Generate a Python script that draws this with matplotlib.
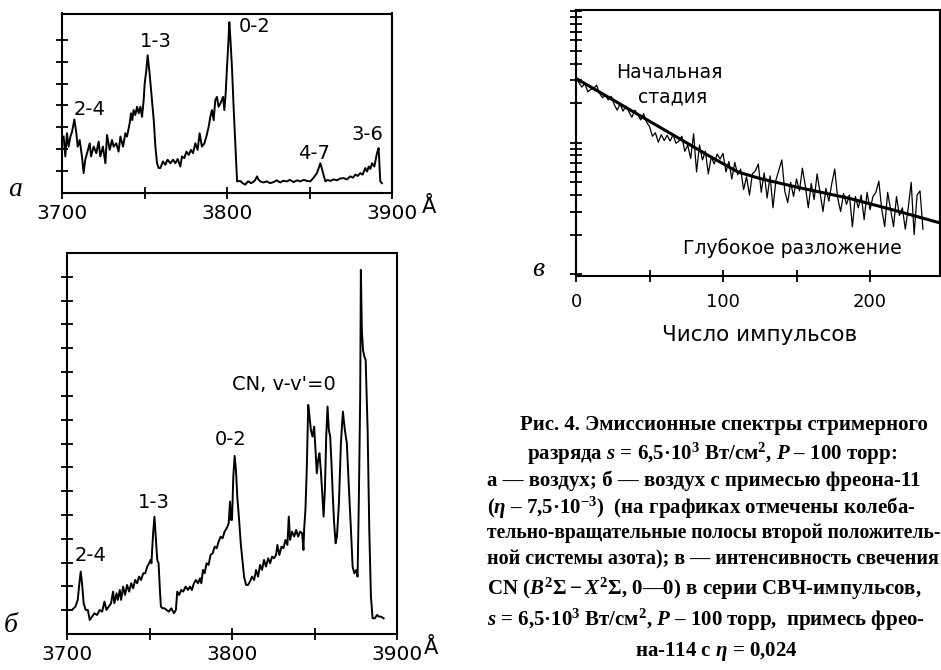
import matplotlib
matplotlib.use('Agg')
import matplotlib.pyplot as plt
import numpy as np
from matplotlib.ticker import LogLocator, NullFormatter

plt.rcParams['font.family'] = ['DejaVu Sans']
plt.rcParams['mathtext.fontset'] = 'custom'
plt.rcParams['mathtext.rm'] = 'Liberation Serif:bold'
plt.rcParams['mathtext.it'] = 'Liberation Serif:italic:bold'
plt.rcParams['mathtext.bf'] = 'Liberation Serif:bold'

# ---------------- data: panel a (air) ----------------
lam_a = [3701.0, 3702.0, 3703.0, 3704.0, 3705.1, 3706.1, 3707.5, 3708.7, 3709.5, 3710.7,
         3712.1, 3713.1, 3714.1, 3715.2, 3716.8, 3717.6, 3719.2, 3720.8, 3722.2, 3723.2,
         3724.8, 3726.3, 3727.3, 3728.9, 3730.3, 3731.3, 3732.9, 3734.3, 3735.4, 3737.0,
         3738.4, 3739.4, 3741.0, 3741.8, 3742.6, 3743.4, 3744.4, 3745.5, 3746.5, 3747.5,
         3748.5, 3749.5, 3750.1, 3751.1, 3751.9, 3753.1, 3754.5, 3755.6, 3756.6, 3757.6,
         3758.6, 3759.6, 3761.2, 3762.6, 3764.0, 3765.7, 3767.3, 3768.7, 3770.1, 3771.7,
         3772.7, 3774.1, 3775.4, 3776.8, 3778.2, 3779.4, 3780.8, 3782.2, 3783.4, 3784.8,
         3786.3, 3787.5, 3788.9, 3789.9, 3790.9, 3791.9, 3792.9, 3793.9, 3794.9, 3796.0,
         3797.6, 3798.4, 3799.2, 3800.0, 3800.8, 3801.4, 3802.0, 3803.0, 3804.0, 3805.1,
         3806.1, 3808.1, 3809.5, 3811.1, 3812.5, 3813.1, 3814.5, 3815.8, 3817.0, 3818.2,
         3819.2, 3820.2, 3822.0, 3824.2, 3826.0, 3828.3, 3830.0, 3832.3, 3834.0, 3836.4,
         3838.0, 3840.4, 3842.5, 3844.4, 3846.5, 3848.5, 3850.5, 3852.5, 3854.5, 3856.6,
         3858.2, 3859.6, 3861.0, 3862.6, 3864.6, 3866.7, 3868.5, 3870.7, 3872.7, 3874.7,
         3876.3, 3877.8, 3879.3, 3880.8, 3882.2, 3883.8, 3884.9, 3885.9, 3886.9, 3887.9,
         3889.3, 3890.9, 3891.9, 3892.9, 3893.9]
int_a = [2.58, 1.67, 2.73, 2.12, 2.58, 2.80, 3.36, 2.73, 2.12, 2.42,
         1.67, 0.91, 1.52, 1.82, 2.27, 1.67, 2.12, 1.82, 2.35, 1.67,
         2.12, 1.36, 2.65, 1.97, 2.42, 2.12, 2.27, 1.89, 2.58, 2.12,
         2.73, 2.58, 3.18, 3.64, 3.33, 3.79, 3.56, 3.94, 3.64, 3.94,
         3.48, 4.24, 5.00, 5.60, 6.29, 5.45, 4.24, 3.33, 2.12, 1.36,
         1.14, 1.14, 1.44, 1.29, 1.52, 1.36, 1.52, 1.36, 1.55, 1.21,
         1.67, 1.59, 1.89, 1.74, 1.97, 1.82, 2.27, 1.97, 2.73, 2.12,
         2.27, 2.58, 3.03, 3.48, 3.79, 3.33, 4.24, 4.39, 3.94, 4.09,
         4.39, 3.79, 4.55, 5.76, 6.82, 7.80, 7.12, 5.76, 3.94, 2.12,
         0.53, 0.55, 0.45, 0.38, 0.52, 0.53, 0.45, 0.50, 0.58, 0.76,
         0.60, 0.53, 0.48, 0.53, 0.45, 0.50, 0.58, 0.48, 0.56, 0.53,
         0.60, 0.50, 0.58, 0.53, 0.60, 0.55, 0.53, 0.70, 0.91, 1.36,
         0.91, 0.53, 0.60, 0.55, 0.62, 0.58, 0.66, 0.68, 0.62, 0.76,
         0.70, 0.84, 0.78, 0.91, 0.84, 1.14, 0.98, 1.21, 1.10, 1.36,
         1.21, 1.82, 2.05, 0.53, 0.45]

# ---------------- data: panel б (air + freon) ----------------
lam_b = [3701.0, 3703.0, 3705.1, 3706.5, 3707.5, 3708.3, 3709.1, 3710.1, 3711.3, 3712.6,
         3713.8, 3715.2, 3716.6, 3718.2, 3719.8, 3721.3, 3722.7, 3723.9, 3725.3, 3726.7,
         3727.9, 3728.7, 3730.0, 3730.8, 3732.0, 3732.8, 3734.0, 3735.2, 3736.4, 3737.7,
         3738.9, 3740.1, 3741.3, 3742.5, 3743.7, 3744.9, 3746.2, 3747.4, 3748.6, 3749.8,
         3750.6, 3751.2, 3751.6, 3752.2, 3753.0, 3753.8, 3754.7, 3755.5, 3756.3, 3756.9,
         3757.9, 3759.1, 3760.3, 3761.7, 3763.2, 3764.8, 3766.0, 3766.8, 3768.0, 3769.2,
         3770.4, 3771.9, 3773.3, 3774.5, 3775.7, 3776.9, 3778.1, 3779.4, 3780.6, 3781.4,
         3782.4, 3783.4, 3784.6, 3785.8, 3787.0, 3788.3, 3789.5, 3790.7, 3791.9, 3793.1,
         3794.3, 3795.5, 3796.8, 3798.0, 3798.8, 3799.4, 3800.0, 3800.8, 3801.6, 3802.4,
         3803.2, 3804.3, 3805.3, 3806.3, 3807.3, 3808.5, 3809.7, 3810.9, 3812.1, 3813.4,
         3814.6, 3815.8, 3817.0, 3818.2, 3819.4, 3820.6, 3821.9, 3823.1, 3824.3, 3825.5,
         3826.7, 3827.5, 3828.7, 3830.0, 3831.2, 3832.4, 3833.6, 3834.4, 3835.2, 3836.4,
         3837.7, 3838.9, 3840.1, 3841.3, 3842.5, 3843.3, 3843.7, 3844.5, 3845.3, 3846.2,
         3847.0, 3847.8, 3848.8, 3849.8, 3850.6, 3851.4, 3852.2, 3853.0, 3853.8, 3854.7,
         3855.5, 3856.3, 3857.1, 3857.9, 3858.7, 3859.5, 3860.3, 3861.1, 3861.9, 3862.8,
         3863.6, 3864.8, 3866.0, 3867.2, 3868.4, 3869.6, 3870.9, 3872.1, 3873.1, 3874.1,
         3875.3, 3876.1, 3876.9, 3877.7, 3878.1, 3878.7, 3879.4, 3880.2, 3881.0, 3882.2,
         3883.2, 3884.2, 3885.2, 3886.6, 3887.9, 3889.1, 3890.3, 3891.9]
int_b = [1.01, 1.01, 1.15, 1.43, 2.13, 2.62, 2.13, 1.29, 1.01, 1.01,
         0.59, 0.73, 0.87, 0.80, 1.01, 0.94, 1.36, 1.01, 1.15, 1.29,
         1.78, 1.29, 1.71, 1.43, 1.85, 1.43, 1.99, 1.64, 2.06, 1.78,
         2.13, 1.92, 2.27, 2.13, 2.41, 2.27, 2.55, 2.55, 2.83, 2.97,
         3.11, 2.97, 3.53, 4.23, 4.93, 4.09, 3.11, 2.97, 1.85, 1.15,
         1.08, 1.08, 1.01, 0.94, 1.08, 0.87, 1.01, 1.78, 1.64, 1.85,
         1.78, 1.99, 1.85, 1.99, 1.85, 2.13, 2.27, 2.13, 2.34, 2.13,
         2.69, 2.55, 2.97, 2.90, 3.32, 3.39, 3.67, 3.60, 3.88, 4.09,
         4.02, 4.30, 4.44, 4.65, 5.56, 4.79, 4.79, 6.61, 7.48, 6.89,
         5.77, 4.79, 3.81, 3.11, 2.41, 2.06, 2.06, 2.20, 2.41, 2.27,
         2.69, 2.41, 2.90, 2.69, 3.11, 2.83, 3.18, 2.97, 3.25, 3.18,
         3.32, 3.74, 3.32, 3.67, 3.60, 3.95, 3.74, 4.93, 3.95, 4.30,
         4.09, 4.37, 4.09, 4.30, 4.23, 3.53, 4.37, 5.21, 6.89, 9.62,
         9.13, 8.57, 8.29, 8.71, 7.73, 6.75, 7.31, 7.59, 6.89, 5.91,
         4.93, 6.05, 8.29, 9.55, 8.57, 8.29, 7.17, 5.77, 4.65, 3.81,
         4.09, 5.49, 8.01, 9.34, 8.57, 8.01, 6.05, 4.37, 2.83, 2.55,
         2.69, 2.41, 5.77, 9.97, 15.29, 12.77, 11.93, 11.65, 11.51, 8.57,
         4.37, 1.57, 0.66, 0.66, 0.80, 0.73, 0.73, 0.66]

# ---------------- data: panel в (CN intensity vs pulse number) ----------------
pulse_c = np.arange(0, 238, 2)
int_c = [3.08, 2.86, 2.65, 2.82, 2.44, 2.54, 2.58, 2.74, 2.37, 2.20,
         2.29, 2.12, 2.25, 1.95, 1.77, 1.97, 1.74, 1.90, 1.72, 1.56,
         1.77, 1.64, 1.49, 1.66, 1.43, 1.33, 1.12, 1.19, 1.01, 1.15,
         1.04, 1.14, 1.03, 1.15, 0.99, 1.03, 1.12, 0.86, 0.96, 0.76,
         1.17, 0.60, 0.96, 0.74, 0.86, 0.58, 0.78, 0.69, 0.82, 0.75,
         0.83, 0.60, 0.72, 0.53, 0.71, 0.57, 0.63, 0.44, 0.55, 0.40,
         0.58, 0.61, 0.69, 0.42, 0.59, 0.38, 0.56, 0.32, 0.52, 0.62,
         0.74, 0.43, 0.35, 0.50, 0.39, 0.53, 0.43, 0.64, 0.47, 0.32,
         0.49, 0.37, 0.58, 0.42, 0.30, 0.45, 0.36, 0.49, 0.63, 0.38,
         0.30, 0.41, 0.34, 0.40, 0.23, 0.39, 0.32, 0.40, 0.26, 0.42,
         0.31, 0.39, 0.42, 0.51, 0.31, 0.23, 0.42, 0.31, 0.23, 0.39,
         0.28, 0.32, 0.22, 0.32, 0.50, 0.20, 0.40, 0.43, 0.22]
fit_x = [0, 22, 45, 67, 90, 110, 125, 150, 185, 215, 248]
fit_y = [3.08, 2.22, 1.57, 1.13, 0.80, 0.60, 0.535, 0.46, 0.38, 0.31, 0.245]

# labels
labels_a = [("2-4", 3717, 3.8), ("1-3", 3756.6, 6.9), ("0-2", 3817, 7.6),
            ("4-7", 3852.5, 1.8), ("3-6", 3885, 2.65)]
labels_b = [("2-4", 3714.2, 3.28), ("1-3", 3752.6, 5.52), ("0-2", 3799.2, 8.18),
            ("CN, v-v'=0", 3831.6, 10.46)]
wl_ticks = [3700, 3750, 3800, 3850, 3900]
wl_ticklabels = ["3700", "", "3800", "", "3900"]
pulse_ticks = [0, 50, 100, 150, 200]
pulse_ticklabels = ["0", "", "100", "", "200"]

# caption lines: text, left x (px), baseline y (px), font size
caption = [
    ("Рис. 4. Эмиссионные спектры стримерного", 520, 430, 15),
    (r"разряда $s$ = 6,5·10$^3$ Вт/см$^2$, $P$ – 100 торр:", 527, 460, 15),
    ("а — воздух; б — воздух с примесью фреона-11", 487, 486, 15),
    (r"($\eta$ – 7,5·10$^{-3}$)  (на графиках отмечены колеба-", 487, 514, 15),
    ("тельно-вращательные полосы второй положитель-", 487, 538, 14.1),
    ("ной системы азота); в — интенсивность свечения", 487, 564, 14.5),
    (r"CN ($B^2\Sigma - X^2\Sigma$, 0—0) в серии СВЧ-импульсов,", 487, 595, 15),
    (r"$s$ = 6,5·10$^3$ Вт/см$^2$, $P$ – 100 торр,  примесь фрео-", 487, 626, 15),
    (r"на-114 с $\eta$ = 0,024", 635, 656, 15),
]

# ---------------- figure ----------------
W, H = 941, 670
fig = plt.figure(figsize=(W / 100, H / 100), dpi=100)


def box(l, t, r, b):
    return [l / W, 1 - b / H, (r - l) / W, (b - t) / H]


def style_spectrum(ax, ymax, nticks):
    ax.set_xlim(3700, 3900)
    ax.set_ylim(0, ymax)
    ax.set_xticks(wl_ticks)
    ax.set_xticklabels(wl_ticklabels)
    ax.set_yticks(range(1, nticks + 1))
    ax.set_yticklabels([])
    ax.tick_params(direction='inout', length=8, width=1.3, labelsize=14.5, pad=4)
    for sp in ax.spines.values():
        sp.set_linewidth(1.5)


ax_a = fig.add_axes(box(62, 13.5, 392, 193))
ax_a.plot(lam_a, int_a, color='black', lw=1.4)
style_spectrum(ax_a, 8.2, 7)
for t, x, y in labels_a:
    ax_a.text(x, y, t, ha='center', va='center', fontsize=14)

ax_b = fig.add_axes(box(67, 253, 397, 634))
ax_b.plot(lam_b, int_b, color='black', lw=1.4)
style_spectrum(ax_b, 16, 15)
for t, x, y in labels_b:
    ax_b.text(x, y, t, ha='center', va='center', fontsize=14)

ax_c = fig.add_axes(box(576, 9.5, 940, 276))
ax_c.plot(pulse_c, int_c, color='black', lw=0.9)
ax_c.plot(fit_x, fit_y, color='black', lw=2.2)
ax_c.set_yscale('log')
ax_c.set_xlim(0, 247.6)
ax_c.set_ylim(0.097, 10.3)
ax_c.set_xticks(pulse_ticks)
ax_c.set_xticklabels(pulse_ticklabels)
ax_c.yaxis.set_major_locator(LogLocator(base=10))
ax_c.yaxis.set_minor_locator(LogLocator(base=10, subs=np.arange(2, 10)))
ax_c.yaxis.set_major_formatter(NullFormatter())
ax_c.yaxis.set_minor_formatter(NullFormatter())
ax_c.tick_params(which='both', direction='inout', length=8, width=1.3, labelsize=13, pad=8)
for sp in ax_c.spines.values():
    sp.set_linewidth(1.5)


def ftext(px, py, s, **kw):
    fig.text(px / W, 1 - py / H, s, **kw)


# axis unit and panel letters
ftext(429, 207, "Å", fontsize=15, ha='center', va='center')
ftext(431, 648, "Å", fontsize=15, ha='center', va='center')
ftext(15, 190, "а", fontsize=20, ha='center', va='center', family='Liberation Serif', style='italic')
ftext(11, 625, "б", fontsize=20, ha='center', va='center', family='Liberation Serif', style='italic')
ftext(538, 269, "в", fontsize=20, ha='center', va='center', family='Liberation Serif', style='italic')

ftext(669, 73, "Начальная", fontsize=13.5, ha='center', va='center')
ftext(673, 97, "стадия", fontsize=13.5, ha='center', va='center')
ftext(792, 248, "Глубокое разложение", fontsize=13.5, ha='center', va='center')
ftext(760, 335, "Число импульсов", fontsize=15.5, ha='center', va='center')

for s, px, py, fs in caption:
    ftext(px, py, s, fontsize=fs, ha='left', va='baseline',
          family='Liberation Serif', weight='bold')

fig.savefig('out.png', dpi=100)
